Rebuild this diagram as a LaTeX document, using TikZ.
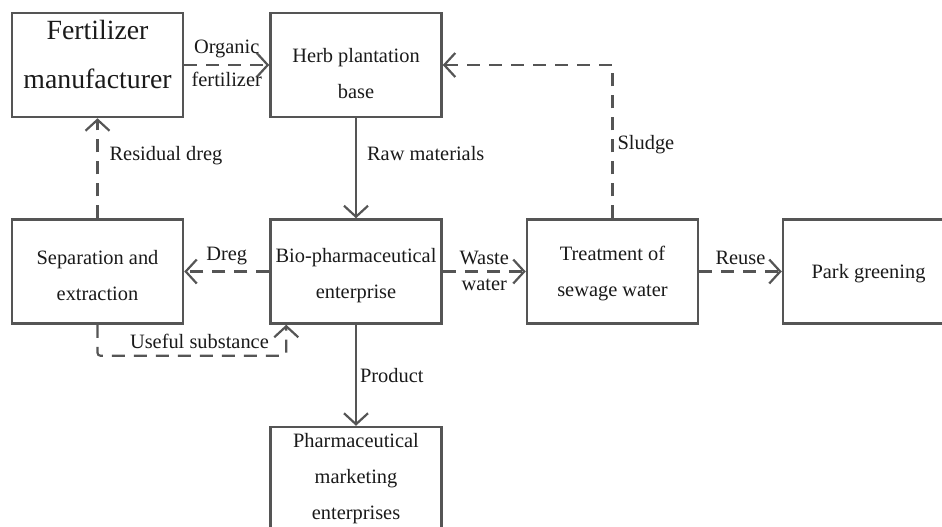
\documentclass[tikz,border=0pt]{standalone}
\usepackage{fontspec}
\setmainfont{Liberation Serif}
\usetikzlibrary{arrows.meta}
\definecolor{ink}{HTML}{1A1A1A}
\definecolor{wire}{HTML}{555555}

\begin{document}
\begin{tikzpicture}[x=0.5pt,y=-0.5pt,
  box/.style={draw=wire,line width=1.25pt,minimum width=85.5pt,minimum height=52pt,inner sep=0pt},
  boxtext/.style={align=center,text=ink,font=\fontsize{10.2}{18}\selectfont,inner sep=0pt},
  flow/.style={wire,line width=1.1pt,-{Straight Barb[length=5.5pt,width=12pt]}},
  back/.style={flow,dash pattern=on 6.5pt off 4.5pt},
  tag/.style={text=ink,font=\fontsize{10.2}{12}\selectfont,inner sep=3pt}]
  \useasboundingbox (0,0) rectangle (942,526);
  \clip (0,0) rectangle (942,526);
  % boxes: name, centre x, centre y, text shift, text
  \foreach \bname/\bx/\by/\bs/\btext in {
      herb/356/65/-4.5/{Herb plantation\\base},
      sep/97.5/271.5/-2/{Separation and\\extraction},
      bio/356/271.5/-2/{Bio-pharmaceutical\\enterprise},
      sewage/612.5/271.5/-1/{Treatment of\\sewage water},
      park/868.5/271.5/-1/{Park greening},
      market/356/479/0/{Pharmaceutical\\marketing\\enterprises}} {
    \node[box] (\bname) at (\bx,\by) {};
    \node[boxtext] (\bname-t) at ([yshift=\bs pt]\bname.center) {\btext};
  }
  \node[box] (fert) at (97.5,65) {};
  \node[boxtext,font=\fontsize{13.9}{24.5}\selectfont] (fert-t) at ([yshift=5.5pt]fert.center) {Fertilizer\\manufacturer};
  % material flows
  \draw[back] (fert) -- node[tag,above]{Organic} node[tag,below]{fertilizer} (herb);
  \draw[flow] (herb) -- node[tag,right,pos=0.35,inner xsep=5pt]{Raw materials} (bio);
  \draw[back] (sewage.north) |- node[tag,right,pos=0.24,inner xsep=2pt]{Sludge} (herb.east);
  \draw[back] (bio) -- node[tag,above]{Dreg} (sep);
  \draw[back] (sep) -- node[tag,right,pos=0.63,inner xsep=5.5pt]{Residual dreg} (fert);
  \coordinate (subin) at ([xshift=8.5pt]bio.south west);
  \draw[back,rounded corners=1.5pt] (sep.south) -- ++(0,31) -| node[tag,above,pos=0.27]{Useful substance} (subin);
  \draw[back] (bio) -- node[tag,above]{Waste} node[tag,below]{water} (sewage);
  \draw[back] (sewage) -- node[tag,above]{Reuse} (park);
  \draw[flow] (bio) -- node[tag,right,inner sep=1.5pt]{Product} (market);
\end{tikzpicture}
\end{document}
